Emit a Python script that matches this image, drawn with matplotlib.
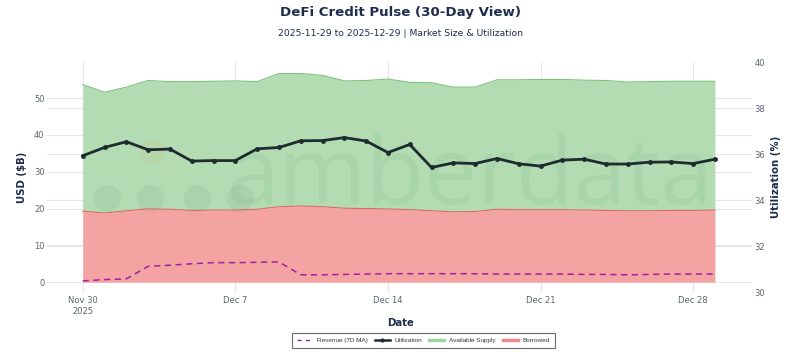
import numpy as np
import pandas as pd
import matplotlib
matplotlib.use("Agg")
from matplotlib import pyplot as plt
import matplotlib.dates as mdates
from matplotlib.lines import Line2D

plt.rcParams['font.family'] = ['DejaVu Sans']

# data (USD $B on left axis, % on right)
dates = pd.date_range("2025-11-30", "2025-12-29", freq="D")
borrowed = [19.3, 18.8, 19.4, 19.9, 19.8, 19.5, 19.6, 19.6, 19.8, 20.5,
            20.7, 20.5, 20.1, 20.0, 19.9, 19.7, 19.4, 19.1, 19.2, 19.8,
            19.7, 19.7, 19.7, 19.6, 19.5, 19.4, 19.4, 19.5, 19.5, 19.6]
available = [34.4, 32.8, 33.6, 34.9, 34.7, 35.0, 35.0, 35.1, 34.7, 36.2,
             36.0, 35.7, 34.6, 34.8, 35.3, 34.6, 34.8, 33.9, 33.8, 35.2,
             35.3, 35.4, 35.4, 35.3, 35.3, 35.0, 35.1, 35.1, 35.1, 35.0]
utilization = [35.93, 36.29, 36.54, 36.19, 36.22, 35.70, 35.72, 35.72, 36.23, 36.29,
               36.58, 36.59, 36.72, 36.57, 36.07, 36.42, 35.42, 35.62, 35.59, 35.81,
               35.58, 35.48, 35.74, 35.78, 35.57, 35.57, 35.65, 35.66, 35.59, 35.78]
revenue = [0.35, 0.7, 0.9, 4.3, 4.6, 5.0, 5.3, 5.3, 5.4, 5.5,
           2.0, 2.0, 2.1, 2.2, 2.3, 2.3, 2.3, 2.3, 2.3, 2.2,
           2.2, 2.2, 2.2, 2.1, 2.1, 2.0, 2.1, 2.2, 2.2, 2.2]
tick_dates = ["2025-11-30", "2025-12-07", "2025-12-14", "2025-12-21", "2025-12-28"]
tick_labels = ["Nov 30\n2025", "Dec 7", "Dec 14", "Dec 21", "Dec 28"]

NAVY = "#1f2d4d"
TICK = "#5a6470"
GRID = "#e6e6e6"
Y1 = (-2.72, 59.8)
Y2 = (30, 40)

fig = plt.figure(figsize=(8, 3.55), dpi=100)
ax = fig.add_axes([0.059, 0.177, 0.881, 0.648])
ax2 = ax.twinx()

b = np.array(borrowed)
tot = b + np.array(available)

ax.fill_between(dates, 0, b, color="#f4a3a3", lw=0, zorder=2)
ax.plot(dates, b, color="#e06666", lw=0.8, zorder=3)
ax.fill_between(dates, b, tot, color="#b3dcb3", lw=0, zorder=2)
ax.plot(dates, tot, color="#7cc27c", lw=0.8, zorder=3)
ax.plot(dates, revenue, color="#a020a0", lw=1.1, ls=(0, (4, 3)), zorder=4)

# watermark
ax.text(0.60, 0.49, "amberdata", transform=ax.transAxes, ha="center", va="center",
        fontsize=68, color="#4f8f60", alpha=0.09, zorder=3, family="Open Sans")
for cx, cy, c in [(0.085, 0.41, "#506a58"), (0.146, 0.41, "#506a58"),
                  (0.213, 0.41, "#506a58"), (0.274, 0.41, "#506a58"),
                  (0.149, 0.61, "#e8a050")]:
    ax.scatter([cx], [cy], s=380, color=c, alpha=0.08, transform=ax.transAxes,
               lw=0, zorder=3)

ax2.plot(dates, utilization, color="#1e2b30", lw=2, marker="o", ms=2.5, zorder=5)

x0 = mdates.date2num(dates[0])
ax.set_xlim(x0 - 1.63, x0 + 30.7)
ax.set_ylim(*Y1)
ax2.set_ylim(*Y2)

ax.set_yticks([0, 10, 20, 30, 40, 50])
ax2.set_yticks([30, 32, 34, 36, 38, 40])
ax.set_xticks(pd.to_datetime(tick_dates))
ax.set_xticklabels(tick_labels, linespacing=1.25)

for a in (ax, ax2):
    for s in a.spines.values():
        s.set_visible(False)
    a.tick_params(length=0, colors=TICK, labelsize=6, pad=2)
ax.tick_params(axis="x", pad=3)
ax.grid(True, color=GRID, lw=0.8, zorder=0)
ax.set_axisbelow(True)
# right-axis grid drawn in left-axis units so it stays behind the fills
for y in [32, 34, 36, 38]:
    yl = Y1[0] + (y - Y2[0]) / (Y2[1] - Y2[0]) * (Y1[1] - Y1[0])
    ax.axhline(yl, color=GRID, lw=0.8, zorder=0)
ax2.set_zorder(ax.get_zorder() + 1)
ax2.patch.set_visible(False)

ax.set_ylabel("USD ($B)", fontsize=7.3, fontweight="bold", color=NAVY, labelpad=5)
ax2.set_ylabel("Utilization (%)", fontsize=7.3, fontweight="bold", color=NAVY, labelpad=4)
fig.text(0.5, 0.09, "Date", ha="center", va="center", fontsize=7.3,
         fontweight="bold", color=NAVY)

fig.text(0.5, 0.966, "DeFi Credit Pulse (30-Day View)", ha="center", va="center",
         fontsize=9.6, fontweight="bold", color=NAVY)
fig.text(0.5, 0.907, "2025-11-29 to 2025-12-29 | Market Size & Utilization", ha="center",
         va="center", fontsize=6.7, color=NAVY)

handles = [Line2D([], [], color="#a020a0", lw=1.0, ls=(0, (3, 3))),
           Line2D([], [], color="#1e2b30", lw=1.8, marker="o", ms=2),
           Line2D([], [], color="#9fd49f", lw=2.5),
           Line2D([], [], color="#f08a8a", lw=2.5)]
labels = ["Revenue (7D MA)", "Utilization", "Available Supply", "Borrowed"]
leg = fig.legend(handles, labels, loc="center", bbox_to_anchor=(0.529, 0.041), ncol=4,
                 prop={"family": "Liberation Sans", "size": 4.6}, frameon=True,
                 fancybox=False, handlelength=2.4,
                 columnspacing=1.1, handletextpad=0.7, borderpad=0.8,
                 borderaxespad=0)
leg.get_frame().set_edgecolor("#444444")
leg.get_frame().set_linewidth(0.8)
for t in leg.get_texts():
    t.set_color("#333333")

fig.savefig("out.png", dpi=100)
